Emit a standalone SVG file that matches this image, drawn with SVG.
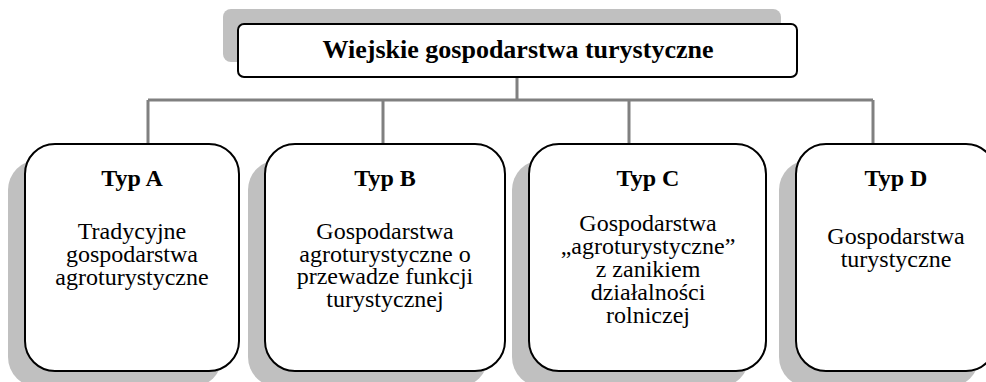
<svg xmlns="http://www.w3.org/2000/svg" width="986" height="382" viewBox="0 0 986 382">
<style>
.shadow{fill:#c0c0c0;stroke:none}
.box{fill:#ffffff;stroke:#000000;stroke-width:2}
.conn{fill:none;stroke:#808080;stroke-width:3}
.title{font-size:26px;font-weight:bold}
.typ{font-size:24px;font-weight:bold}
.body{font-size:24px}
</style>
<rect width="986" height="382" fill="#ffffff"/>
<g id="connectors">
<path class="conn" d="M517 77 V100 M148 100 H873 M148 100 V144 M383 100 V144 M629 100 V144 M873 100 V144"/>
</g>
<g font-family="'Liberation Serif', 'DejaVu Serif', serif" text-anchor="middle" fill="#000000">
<g id="root">
<rect class="shadow" x="223" y="9" width="558" height="53" rx="8"/>
<rect class="box" x="238" y="24" width="559" height="53" rx="6"/>
<text class="title" x="518" y="58">Wiejskie gospodarstwa turystyczne</text>
</g>
<g id="typA">
<rect class="shadow" x="8" y="160" width="214" height="227" rx="30"/>
<rect class="box" x="25" y="144" width="214" height="227" rx="30"/>
<text class="typ" x="132" y="186">Typ A</text>
<text class="body" x="132" y="239">Tradycyjne</text>
<text class="body" x="132" y="262">gospodarstwa</text>
<text class="body" x="132" y="285">agroturystyczne</text>
</g>
<g id="typB">
<rect class="shadow" x="248" y="160" width="240" height="227" rx="30"/>
<rect class="box" x="265" y="144" width="240" height="227" rx="30"/>
<text class="typ" x="385" y="186">Typ B</text>
<text class="body" x="385" y="239">Gospodarstwa</text>
<text class="body" x="385" y="261.5">agroturystyczne o</text>
<text class="body" x="385" y="284">przewadze funkcji</text>
<text class="body" x="385" y="306.5">turystycznej</text>
</g>
<g id="typC">
<rect class="shadow" x="512" y="160" width="237" height="227" rx="30"/>
<rect class="box" x="529" y="144" width="237" height="227" rx="30"/>
<text class="typ" x="648" y="186">Typ C</text>
<text class="body" x="648" y="231">Gospodarstwa</text>
<text class="body" x="648" y="254">„agroturystyczne”</text>
<text class="body" x="648" y="277">z zanikiem</text>
<text class="body" x="648" y="300">działalności</text>
<text class="body" x="648" y="323">rolniczej</text>
</g>
<g id="typD">
<rect class="shadow" x="779" y="160" width="200" height="227" rx="30"/>
<rect class="box" x="796" y="144" width="200" height="227" rx="30"/>
<text class="typ" x="896" y="186">Typ D</text>
<text class="body" x="896" y="244">Gospodarstwa</text>
<text class="body" x="896" y="267">turystyczne</text>
</g>
</g>
</svg>
